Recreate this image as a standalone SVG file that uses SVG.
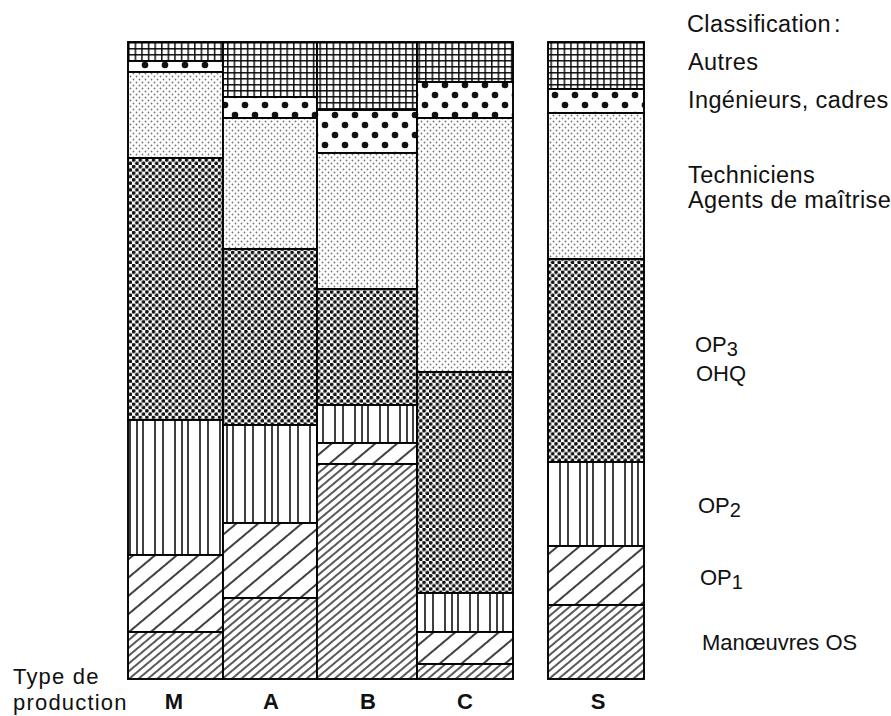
<svg xmlns="http://www.w3.org/2000/svg" width="891" height="716" viewBox="0 0 891 716">
<style>
  .seg { stroke: #000; stroke-width: 1.9; }
  .lbl { font-family: "Liberation Sans", Arial, sans-serif; font-size: 22px; fill: #111; }
  .up { font-size: 23.5px; letter-spacing: 0.4px; }
  .ax { font-size: 22px; letter-spacing: 1.2px; }
  .bar { font-family: "Liberation Sans", Arial, sans-serif; font-size: 22px; font-weight: bold; fill: #111; text-anchor: middle; }
  .autres { fill: url(#pAutres); }
  .ing { fill: url(#pIng); }
  .tech { fill: url(#pTech); }
  .op3 { fill: url(#pOP3); }
  .op2 { fill: url(#pOP2); }
  .op1 { fill: url(#pOP1); }
  .man { fill: url(#pMan); }
</style>
<defs>
  <pattern id="pAutres" patternUnits="userSpaceOnUse" width="6.6" height="6" x="128" y="42">
    <rect width="6.6" height="6" fill="#fff"/>
    <line x1="0.8" y1="0" x2="0.8" y2="6" stroke="#000" stroke-width="1.4"/>
    <line x1="0" y1="0.8" x2="6.6" y2="0.8" stroke="#000" stroke-width="1.4"/>
  </pattern>
  <pattern id="pIng" patternUnits="userSpaceOnUse" width="20" height="20">
    <rect width="20" height="20" fill="#fff"/>
    <circle cx="5" cy="5" r="3.3" fill="#111"/>
    <circle cx="15" cy="15" r="3.3" fill="#111"/>
  </pattern>
  <pattern id="pTech" patternUnits="userSpaceOnUse" width="6" height="6">
    <rect width="6" height="6" fill="#fff"/>
    <circle cx="1.5" cy="1.5" r="0.9" fill="#777"/>
    <circle cx="4.5" cy="4.5" r="0.9" fill="#777"/>
  </pattern>
  <pattern id="pOP3" patternUnits="userSpaceOnUse" width="6.6" height="6.6">
    <rect width="6.6" height="6.6" fill="#fff"/>
    <circle cx="1.65" cy="1.65" r="1.9" fill="#111"/>
    <circle cx="4.95" cy="4.95" r="1.9" fill="#111"/>
  </pattern>
  <pattern id="pOP2" patternUnits="userSpaceOnUse" width="45" height="10" x="129">
    <rect width="45" height="10" fill="#fff"/>
    <g stroke="#000" stroke-width="1.5">
      <line x1="1" y1="0" x2="1" y2="10"/>
      <line x1="8" y1="0" x2="8" y2="10"/>
      <line x1="14" y1="0" x2="14" y2="10"/>
      <line x1="26" y1="0" x2="26" y2="10"/>
      <line x1="34" y1="0" x2="34" y2="10"/>
    </g>
  </pattern>
  <pattern id="pOP1" patternUnits="userSpaceOnUse" width="10" height="14" patternTransform="rotate(-40)">
    <rect width="10" height="14" fill="#fff"/>
    <line x1="0" y1="7" x2="10" y2="7" stroke="#000" stroke-width="1.5"/>
  </pattern>
  <pattern id="pMan" patternUnits="userSpaceOnUse" width="10" height="6" patternTransform="rotate(-40)">
    <rect width="10" height="6" fill="#fff"/>
    <line x1="0" y1="3" x2="10" y2="3" stroke="#000" stroke-width="1.3"/>
  </pattern>
</defs>
<rect width="891" height="716" fill="#fff"/>

<g id="bar-M">
  <rect class="seg autres" x="128" y="42" width="95" height="19"/>
  <rect class="seg ing" x="128" y="61" width="95" height="11"/>
  <rect class="seg tech" x="128" y="72" width="95" height="86"/>
  <rect class="seg op3" x="128" y="158" width="95" height="262"/>
  <rect class="seg op2" x="128" y="420" width="95" height="135"/>
  <rect class="seg op1" x="128" y="555" width="95" height="77"/>
  <rect class="seg man" x="128" y="632" width="95" height="47"/>
</g>
<g id="bar-A">
  <rect class="seg autres" x="223" y="42" width="94" height="55"/>
  <rect class="seg ing" x="223" y="97" width="94" height="21"/>
  <rect class="seg tech" x="223" y="118" width="94" height="131"/>
  <rect class="seg op3" x="223" y="249" width="94" height="176"/>
  <rect class="seg op2" x="223" y="425" width="94" height="98"/>
  <rect class="seg op1" x="223" y="523" width="94" height="75"/>
  <rect class="seg man" x="223" y="598" width="94" height="81"/>
</g>
<g id="bar-B">
  <rect class="seg autres" x="317" y="42" width="100" height="68"/>
  <rect class="seg ing" x="317" y="110" width="100" height="43"/>
  <rect class="seg tech" x="317" y="153" width="100" height="136"/>
  <rect class="seg op3" x="317" y="289" width="100" height="116"/>
  <rect class="seg op2" x="317" y="405" width="100" height="38"/>
  <rect class="seg op1" x="317" y="443" width="100" height="21"/>
  <rect class="seg man" x="317" y="464" width="100" height="215"/>
</g>
<g id="bar-C">
  <rect class="seg autres" x="417" y="42" width="96" height="40"/>
  <rect class="seg ing" x="417" y="82" width="96" height="36"/>
  <rect class="seg tech" x="417" y="118" width="96" height="254"/>
  <rect class="seg op3" x="417" y="372" width="96" height="221"/>
  <rect class="seg op2" x="417" y="593" width="96" height="39"/>
  <rect class="seg op1" x="417" y="632" width="96" height="32"/>
  <rect class="seg man" x="417" y="664" width="96" height="15"/>
</g>
<g id="bar-S">
  <rect class="seg autres" x="548" y="42" width="96" height="47"/>
  <rect class="seg ing" x="548" y="89" width="96" height="24"/>
  <rect class="seg tech" x="548" y="113" width="96" height="146"/>
  <rect class="seg op3" x="548" y="259" width="96" height="203"/>
  <rect class="seg op2" x="548" y="462" width="96" height="84"/>
  <rect class="seg op1" x="548" y="546" width="96" height="59"/>
  <rect class="seg man" x="548" y="605" width="96" height="74"/>
</g>

<g id="legend">
  <text class="lbl up" x="687" y="32">Classification<tspan dx="3">:</tspan></text>
  <text class="lbl up" x="688" y="70">Autres</text>
  <text class="lbl up" x="688" y="108">Ingénieurs, cadres</text>
  <text class="lbl up" x="688" y="183">Techniciens</text>
  <text class="lbl up" x="688" y="208">Agents de maîtrise</text>
  <text class="lbl" x="695" y="352">OP<tspan font-size="20" dy="4">3</tspan></text>
  <text class="lbl" x="696" y="381" font-size="23">OHQ</text>
  <text class="lbl" x="698" y="513">OP<tspan font-size="20" dy="4">2</tspan></text>
  <text class="lbl" x="700" y="585">OP<tspan font-size="20" dy="4">1</tspan></text>
  <text class="lbl" x="702" y="650">Manœuvres OS</text>
</g>

<g id="axis-labels">
  <text class="lbl ax" x="13" y="684">Type de</text>
  <text class="lbl ax" x="13" y="710">production</text>
  <text class="bar" x="174" y="709">M</text>
  <text class="bar" x="271" y="709">A</text>
  <text class="bar" x="368" y="709">B</text>
  <text class="bar" x="465" y="709">C</text>
  <text class="bar" x="598" y="709">S</text>
</g>
</svg>
